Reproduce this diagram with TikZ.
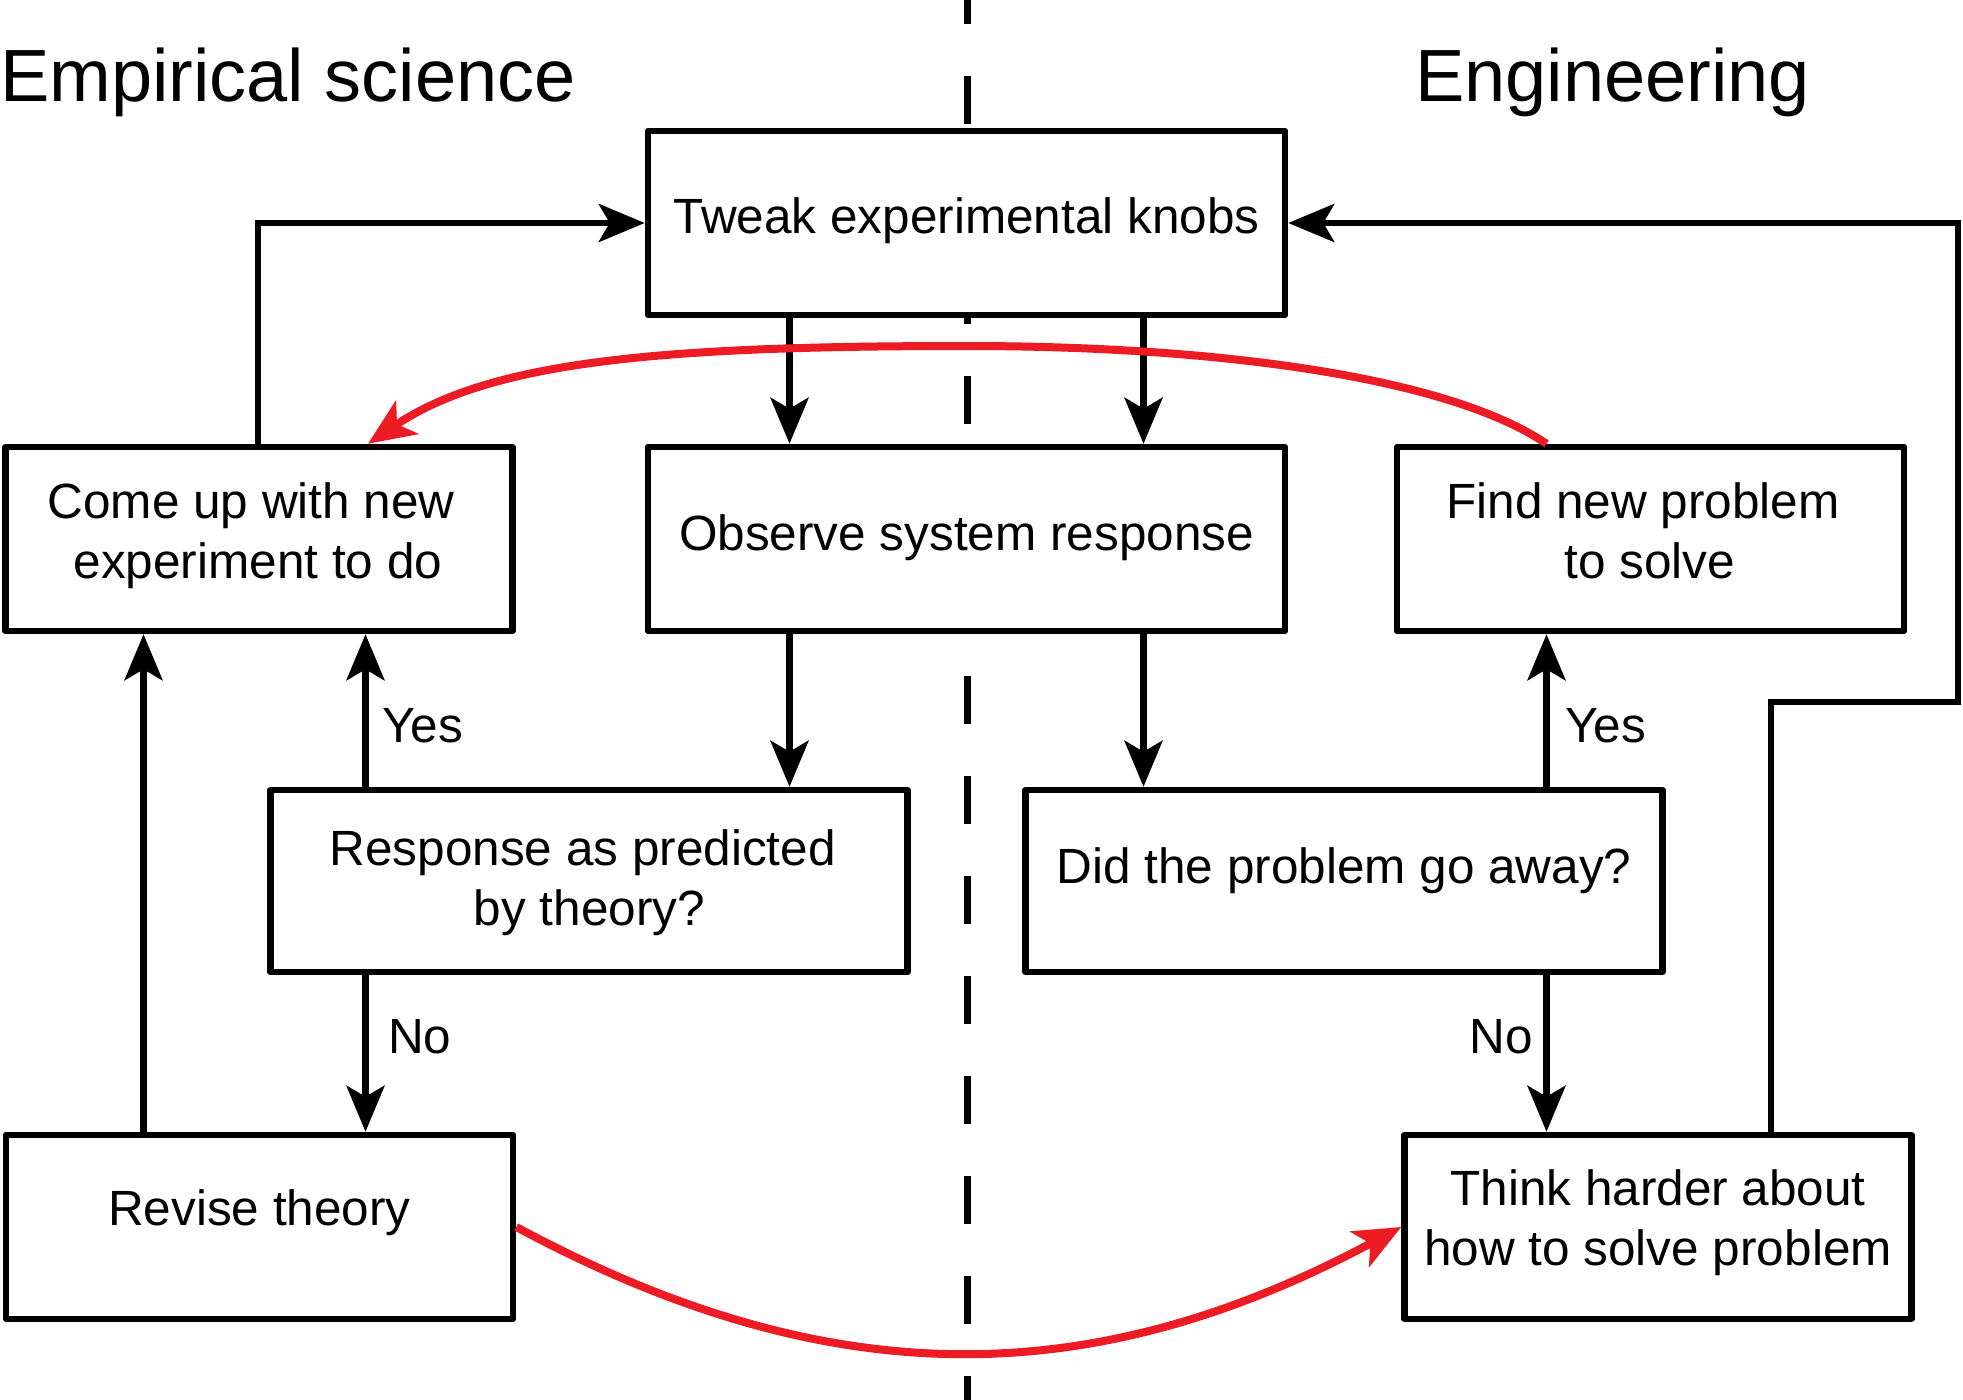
\documentclass[tikz,border=0pt]{standalone}
\usepackage{fontspec}
\setmainfont{Liberation Sans}
\usetikzlibrary{arrows.meta}
\definecolor{arrowred}{RGB}{237,28,36}
\newcommand\twolines[2]{\begin{tabular}[b]{@{}c@{}}#1\\#2\end{tabular}}
\begin{document}
\begin{tikzpicture}[x=1pt,y=-1pt,
  box/.style={draw=black, line width=6.5pt, line join=round, fill=white, inner sep=0pt, minimum height=184pt},
  wide/.style={box, minimum width=637pt},
  narrow/.style={box, minimum width=507pt},
  txt/.style={inner sep=0pt, anchor=base, font=\fontsize{49.5}{60}\selectfont},
  head/.style={inner sep=0pt, anchor=base west, font=\fontsize{74}{89}\selectfont},
  arr/.style={draw=black, line width=6.5pt, -{Stealth[length=46pt,width=38pt,inset=11pt]}},
  redarr/.style={draw=arrowred, line width=8pt, -{Stealth[length=47pt,width=40pt,inset=12pt]}},
  divider/.style={draw=black, line width=7pt, dash pattern=on 48pt off 52pt, dash phase=24pt}]
\useasboundingbox (0,0) rectangle (1963,1400);
% divider
\draw[divider] (967,0) -- (967,1400);
% lanes
\coordinate (xa) at (143.5,0);
\coordinate (xb) at (258,0);
\coordinate (xc) at (365.5,0);
\coordinate (xr) at (368,0);
\coordinate (xd) at (789.5,0);
\coordinate (xe) at (1143.5,0);
\coordinate (xf) at (1546.5,0);
\coordinate (loopa) at (1771,702);
\coordinate (loopb) at (1958,702);
% headings
\node[head] (hleft) at (0,101) {Empirical science};
\node[head] (hright) at (1415,101) {Engineering};
% boxes
\node[wide] (tweak) at (966.5,223) {};
\node[narrow] (comeup) at (259,539) {};
\node[wide] (observe) at (966.5,539) {};
\node[narrow] (find) at (1650.5,539) {};
\node[wide, minimum height=182pt] (response) at (589,881) {};
\node[wide, minimum height=182pt] (did) at (1344,881) {};
\node[narrow] (revise) at (259.5,1227) {};
\node[narrow] (think) at (1658,1227) {};
% texts
\node[txt] (ttweak) at (966.5,233) {Tweak experimental knobs};
\node[txt] (tobserve) at (966.5,550) {Observe system response};
\node[txt] (tcomeup) at (258,578) {\twolines{Come up with new\hspace*{.278em}}{experiment to do}};
\node[txt] (tfind) at (1650,578) {\twolines{Find new problem\hspace*{.278em}}{to solve}};
\node[txt] (tresponse) at (589.5,925) {\twolines{Response as predicted\hspace*{.278em}}{by theory?}};
\node[txt] (tdid) at (1344,883) {Did the problem go away?};
\node[txt] (trevise) at (259.5,1225) {Revise theory};
\node[txt] (tthink) at (1658,1265) {\twolines{Think harder about}{how to solve problem}};
% labels
\node[txt, anchor=base west] (yes1) at (382,742) {Yes};
\node[txt, anchor=base west] (yes2) at (1565,742) {Yes};
\node[txt, anchor=base west] (no1) at (388,1053) {No};
\node[txt, anchor=base east] (no2) at (1533,1053) {No};
% black connectors
\draw[arr] (comeup.north -| xb) |- (tweak.west);
\draw[arr] (think.north -| loopa) -- (loopa) -- (loopb) |- (tweak.east);
\draw[arr] (tweak.south -| xd) -- (observe.north -| xd);
\draw[arr] (tweak.south -| xe) -- (observe.north -| xe);
\draw[arr] (observe.south -| xd) -- (response.north -| xd);
\draw[arr] (observe.south -| xe) -- (did.north -| xe);
\draw[arr] (response.north -| xc) -- (comeup.south -| xc);
\draw[arr] (response.south -| xc) -- (revise.north -| xc);
\draw[arr] (revise.north -| xa) -- (comeup.south -| xa);
\draw[arr] (did.north -| xf) -- (find.south -| xf);
\draw[arr] (did.south -| xf) -- (think.north -| xf);
% red connectors
\draw[redarr] (find.north -| xf) .. controls (1448,377) and (1217,346) .. (967,346)
  .. controls (667,346) and (492,360) .. (comeup.north -| xr);
\draw[redarr] (revise.east) .. controls (827,1394) and (1089,1394) .. (think.west);
\end{tikzpicture}
\end{document}
